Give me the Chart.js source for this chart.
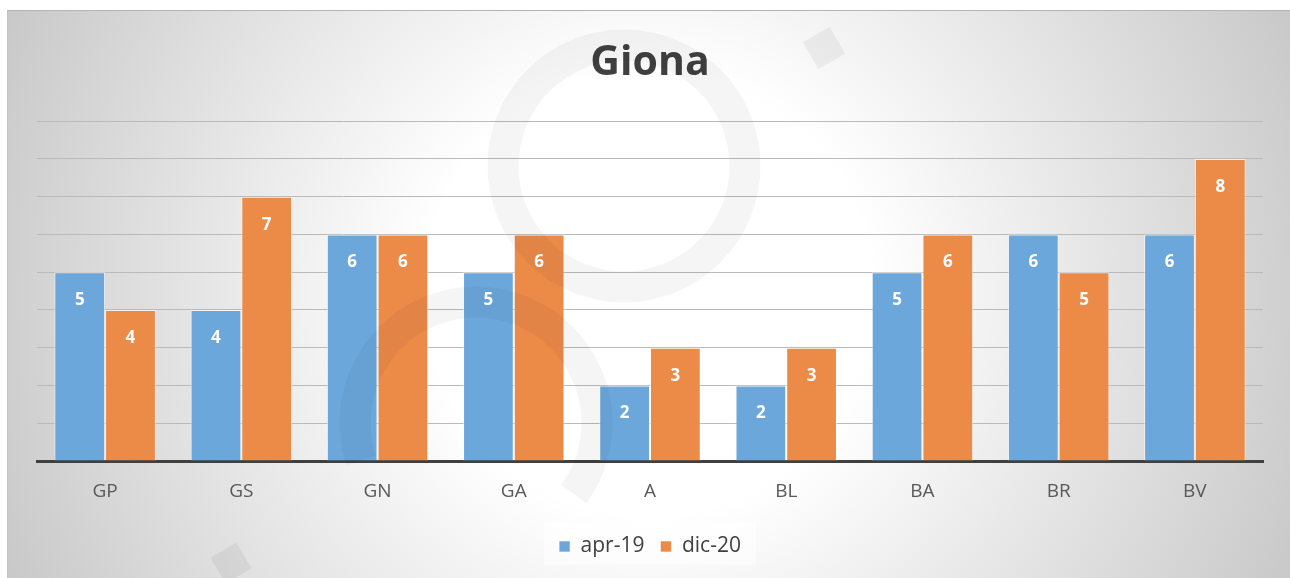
<!DOCTYPE html>
<html>
<head>
<meta charset="utf-8">
<script src="https://cdn.jsdelivr.net/npm/chart.js@4/dist/chart.umd.min.js"></script>
<style>
  html, body { margin: 0; padding: 0; background: #ffffff; }
  #panel {
    position: absolute; left: 7px; top: 10px; width: 1283px; height: 568px;
    border-top: 1px solid #b4b4b4; border-left: 1px solid #c4c4c4;
    background: radial-gradient(ellipse 58% 130% at 50% 50%, #ffffff 30%, #c4c4c4 100%);
    box-sizing: border-box;
  }
  #wrap { position: absolute; left: 0; top: 0; width: 1282px; height: 567px; }
</style>
</head>
<body>
<div id="panel"><div id="wrap"><canvas id="c"></canvas></div></div>
<script>
const categories = ['GP', 'GS', 'GN', 'GA', 'A', 'BL', 'BA', 'BR', 'BV'];
const seriesNames = ['apr-19', 'dic-20'];
const apr19 = [5, 4, 6, 5, 2, 2, 5, 6, 6];
const dic20 = [4, 7, 6, 6, 3, 3, 6, 5, 8];
const titleText = 'Giona';

const FONT = '"Open Sans", "Liberation Sans", sans-serif';

const labelsPlugin = {
  id: 'barLabels',
  afterDatasetsDraw(chart) {
    const ctx = chart.ctx;
    ctx.save();
    ctx.fillStyle = '#ffffff';
    ctx.font = 'bold 17px ' + FONT;
    ctx.textAlign = 'center';
    ctx.textBaseline = 'middle';
    chart.data.datasets.forEach((ds, i) => {
      chart.getDatasetMeta(i).data.forEach((bar, j) => {
        ctx.fillText(String(ds.data[j]), bar.x, bar.y + 28);
      });
    });
    ctx.restore();
  }
};

const decoPlugin = {
  id: 'deco',
  beforeDraw(chart) {
    const ctx = chart.ctx;
    const lg = chart.legend;
    if (lg) {
      ctx.save();
      ctx.fillStyle = 'rgba(255,255,255,0.55)';
      const cx = (lg.left + lg.right) / 2;
      ctx.fillRect(cx - 106, lg.top + lg.height / 2 - 21, 212, 42);
      ctx.restore();
    }
  },
  afterDatasetsDraw(chart) {
    const ctx = chart.ctx;
    ctx.save();
    ctx.strokeStyle = 'rgba(0,0,0,0.04)';
    ctx.lineWidth = 31;
    ctx.beginPath();
    ctx.arc(616, 155, 121, 0, Math.PI * 2);
    ctx.stroke();
    ctx.beginPath();
    ctx.arc(468, 412, 121, Math.PI * 0.9, Math.PI * 2.2);
    ctx.stroke();
    ctx.fillStyle = 'rgba(0,0,0,0.05)';
    const diamond = (x, y, s) => {
      ctx.save();
      ctx.translate(x, y);
      ctx.rotate(Math.PI / 4 + 0.25);
      ctx.fillRect(-s / 2, -s / 2, s, s);
      ctx.restore();
    };
    diamond(816, 37, 31);
    diamond(223, 552, 30);
    ctx.restore();
  }
};

new Chart(document.getElementById('c'), {
  type: 'bar',
  data: {
    labels: categories,
    datasets: [
      { label: seriesNames[0], data: apr19, backgroundColor: '#6ca7db', borderColor: 'rgba(255,255,255,0.6)', borderWidth: 1 },
      { label: seriesNames[1], data: dic20, backgroundColor: '#ec8a48', borderColor: 'rgba(255,255,255,0.6)', borderWidth: 1 }
    ]
  },
  options: {
    responsive: true,
    maintainAspectRatio: false,
    animation: false,
    layout: { padding: { left: 29, right: 27, top: 0, bottom: 11 } },
    datasets: { bar: { categoryPercentage: 0.745, barPercentage: 1.0 } },
    scales: {
      x: {
        grid: { display: false },
        border: { display: true, color: '#404040', width: 3 },
        ticks: { color: '#595959', font: { family: FONT, size: 19 }, padding: 11 },
        afterFit: (s) => { s.height = 59; }
      },
      y: {
        min: 0, max: 9,
        ticks: { display: false, stepSize: 1 },
        grid: {
          drawTicks: false,
          color: (c) => c.tick && c.tick.value === 0 ? 'rgba(0,0,0,0)' : '#bababa',
          lineWidth: 1
        },
        border: { display: false }
      }
    },
    plugins: {
      title: {
        display: true, text: titleText, color: '#404040',
        font: { family: FONT, size: 41, weight: 'bold' },
        padding: { top: 28, bottom: 33 }
      },
      legend: {
        position: 'bottom',
        labels: {
          color: '#404040', font: { family: FONT, size: 21 },
          boxWidth: 11, boxHeight: 11, padding: 16, useBorderRadius: false
        }
      },
      tooltip: { enabled: false }
    }
  },
  plugins: [decoPlugin, labelsPlugin]
});
</script>
</body>
</html>
